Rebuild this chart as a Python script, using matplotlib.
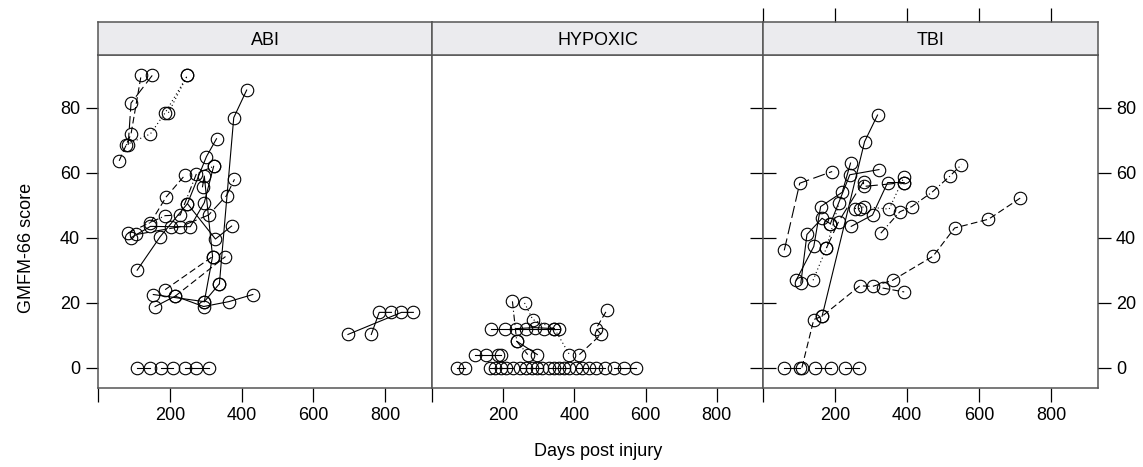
import matplotlib
matplotlib.use('Agg')
import matplotlib.pyplot as plt

# per-child trajectories: days post injury, GMFM-66 score, line type
abi_days = [
    [59, 92, 120], [84, 92, 151], [78, 146, 187, 249], [196, 249],
    [338, 378, 414], [146, 190, 243], [109, 173, 249, 302, 330],
    [92, 146, 204, 257, 296, 322], [84, 187, 229, 274, 322],
    [107, 229, 308, 358, 380], [291, 296, 319, 296], [249, 327, 372],
    [187, 319], [215, 355], [159, 215, 294, 364, 431], [154, 296, 338],
    [109, 146], [176, 210], [243, 274, 308],
    [696, 845, 878], [761, 783, 817],
]
abi_scores = [
    [63.7, 72, 90], [68.6, 81.5, 90], [68.6, 72, 78.5, 90], [78.5, 90],
    [25.8, 77, 85.5], [44.6, 52.6, 59.4], [30, 40.3, 50.5, 65, 70.5],
    [40, 43.5, 43.4, 43.4, 50.8, 62], [41.5, 46.8, 47, 59.7, 62],
    [41, 43.4, 47, 53, 58], [55.7, 59, 34.2, 20.3], [50.5, 39.6, 43.6],
    [24, 34.2], [22, 34.2], [18.8, 22, 18.8, 20.3, 22.5], [22.5, 20.3, 25.8],
    [0, 0], [0, 0], [0, 0, 0],
    [10.2, 17, 17], [10.2, 17, 17],
]
abi_styles = ['dashed', 'longdash', 'dotted', 'dotted', 'solid', 'dashed',
              'solid', 'solid', 'dashdot', 'longdash', 'solid', 'solid',
              'dashed', 'dashed', 'solid', 'solid', 'solid', 'solid', 'solid',
              'solid', 'solid']

hyp_days = [
    [226, 238, 269], [260, 283, 344, 386], [167, 204, 265, 316, 358],
    [237, 288, 344], [414, 475, 461, 492], [120, 153, 185, 195],
    [238, 296], [69, 92], [162, 176, 195, 209, 227], [246, 264, 282, 296, 310],
    [330, 343, 358, 372, 386], [405, 422, 442, 461, 485], [512, 540, 573],
]
hyp_scores = [
    [20.4, 8.1, 4], [19.9, 14.8, 12, 4], [12, 12, 12, 12, 12],
    [12, 12.3, 12], [4, 10.2, 12, 17.8], [4, 4, 4, 4],
    [8.1, 4], [0, 0], [0, 0, 0, 0, 0], [0, 0, 0, 0, 0],
    [0, 0, 0, 0, 0], [0, 0, 0, 0, 0], [0, 0, 0],
]
hyp_styles = ['dashdot', 'dotted', 'solid', 'solid', 'dashed', 'solid',
              'solid', 'solid', 'solid', 'solid', 'solid', 'solid', 'solid']

tbi_days = [
    [59, 102, 192], [164, 282, 318],
    [108, 141, 164, 269, 304, 360, 472, 532, 626, 714],
    [105, 122, 164, 187], [139, 176, 211], [245, 304, 346, 392],
    [327, 380, 413, 469, 518, 551], [187, 241, 322],
    [332, 392], [255, 268, 281, 350, 392], [176, 210, 279, 279, 392],
    [92, 141, 160, 220, 243],
    [59, 103], [145, 189], [229, 267],
]
tbi_scores = [
    [36.1, 56.8, 60.4], [15.8, 69.6, 77.8],
    [0, 14.8, 15.8, 25.2, 25, 26.9, 34.3, 43, 45.7, 52.2],
    [26, 41, 46, 44.3], [26.9, 36.8, 50.7], [43.5, 47, 57, 57],
    [41.4, 48, 49.6, 54, 58.9, 62.5], [44.3, 59.4, 61],
    [24.5, 23.3], [49, 49, 49.6, 48.8, 58.8], [36.8, 45, 57.3, 55.8, 57],
    [26.9, 37.3, 49.6, 54, 63],
    [0, 0], [0, 0], [0, 0],
]
tbi_styles = ['longdash', 'solid', 'dashed', 'solid', 'dotted', 'solid',
              'dashdot', 'solid', 'dashed', 'dotted', 'longdash', 'solid',
              'solid', 'solid', 'solid']

panel_names = ['ABI', 'HYPOXIC', 'TBI']
x_ticks = [0, 200, 400, 600, 800]
x_labels = ['', '200', '400', '600', '800']
y_ticks = [0, 20, 40, 60, 80]

dash_map = {'solid': '-', 'dashed': (0, (6, 3)), 'dotted': (0, (1, 2.5)),
            'dashdot': (0, (6, 2.5, 1, 2.5)), 'longdash': (0, (11, 4))}

plt.rcParams['font.family'] = ['Liberation Sans', 'DejaVu Sans']
border = '#555555'
fs = 13

fig = plt.figure(figsize=(11.43, 4.67), dpi=100)
W, H = 1143.0, 467.0
edges = [98, 432, 763, 1098]
ax_bottom, ax_top, strip_top = 388, 55, 22

panels = [(abi_days, abi_scores, abi_styles),
          (hyp_days, hyp_scores, hyp_styles),
          (tbi_days, tbi_scores, tbi_styles)]

for i, (name, (days, scores, styles)) in enumerate(zip(panel_names, panels)):
    x0 = edges[i] / W
    w = (edges[i + 1] - edges[i]) / W
    ax = fig.add_axes([x0, 1 - ax_bottom / H, w, (ax_bottom - ax_top) / H])
    st = fig.add_axes([x0, 1 - ax_top / H, w, (ax_top - strip_top) / H])

    for d, s, ls in zip(days, scores, styles):
        ax.plot(d, s, linestyle=dash_map[ls], color='black', lw=0.8,
                marker='o', ms=9, mfc='none', mec='black', mew=0.8)

    ax.set_xlim(0, 930)
    ax.set_ylim(-6.3, 96.3)
    ax.set_yticks(y_ticks)
    ax.set_xticks(x_ticks)
    ax.set_xticklabels(x_labels)
    ax.tick_params(axis='x', direction='out', length=10, width=0.9,
                   labelsize=fs, pad=4)
    ax.tick_params(axis='y', direction='out', length=9, width=0.9,
                   labelsize=fs, pad=4)
    if i == 1:
        ax.tick_params(axis='y', left=False, labelleft=False)
    elif i == 2:
        ax2 = ax.twinx()
        ax2.set_ylim(ax.get_ylim())
        ax2.set_yticks(y_ticks)
        ax2.tick_params(axis='y', direction='out', length=9, width=0.9,
                        labelsize=fs, pad=4)
        ax2.spines[:].set_visible(False)
        ax.tick_params(axis='y', left=True, labelleft=False,
                       direction='inout', length=19)
    for sp in ax.spines.values():
        sp.set_color(border)
        sp.set_linewidth(1.1)

    st.set_facecolor('#ebebee')
    st.set_xlim(0, 930)
    st.set_yticks([])
    st.text(0.5, 0.45, name, ha='center', va='center', fontsize=fs,
            transform=st.transAxes)
    if i == 2:
        st.set_xticks(x_ticks)
        st.tick_params(axis='x', bottom=False, labelbottom=False, top=True,
                       labeltop=False, direction='out', length=10, width=0.9)
    else:
        st.set_xticks([])
    for sp in st.spines.values():
        sp.set_color(border)
        sp.set_linewidth(1.1)

fig.text(27 / W, 1 - 248 / H, 'GMFM-66 score', rotation=90, ha='center',
         va='center', fontsize=fs)
fig.text(598 / W, 1 - 452 / H, 'Days post injury', ha='center', va='center',
         fontsize=fs)

fig.savefig('out.png', dpi=100)
